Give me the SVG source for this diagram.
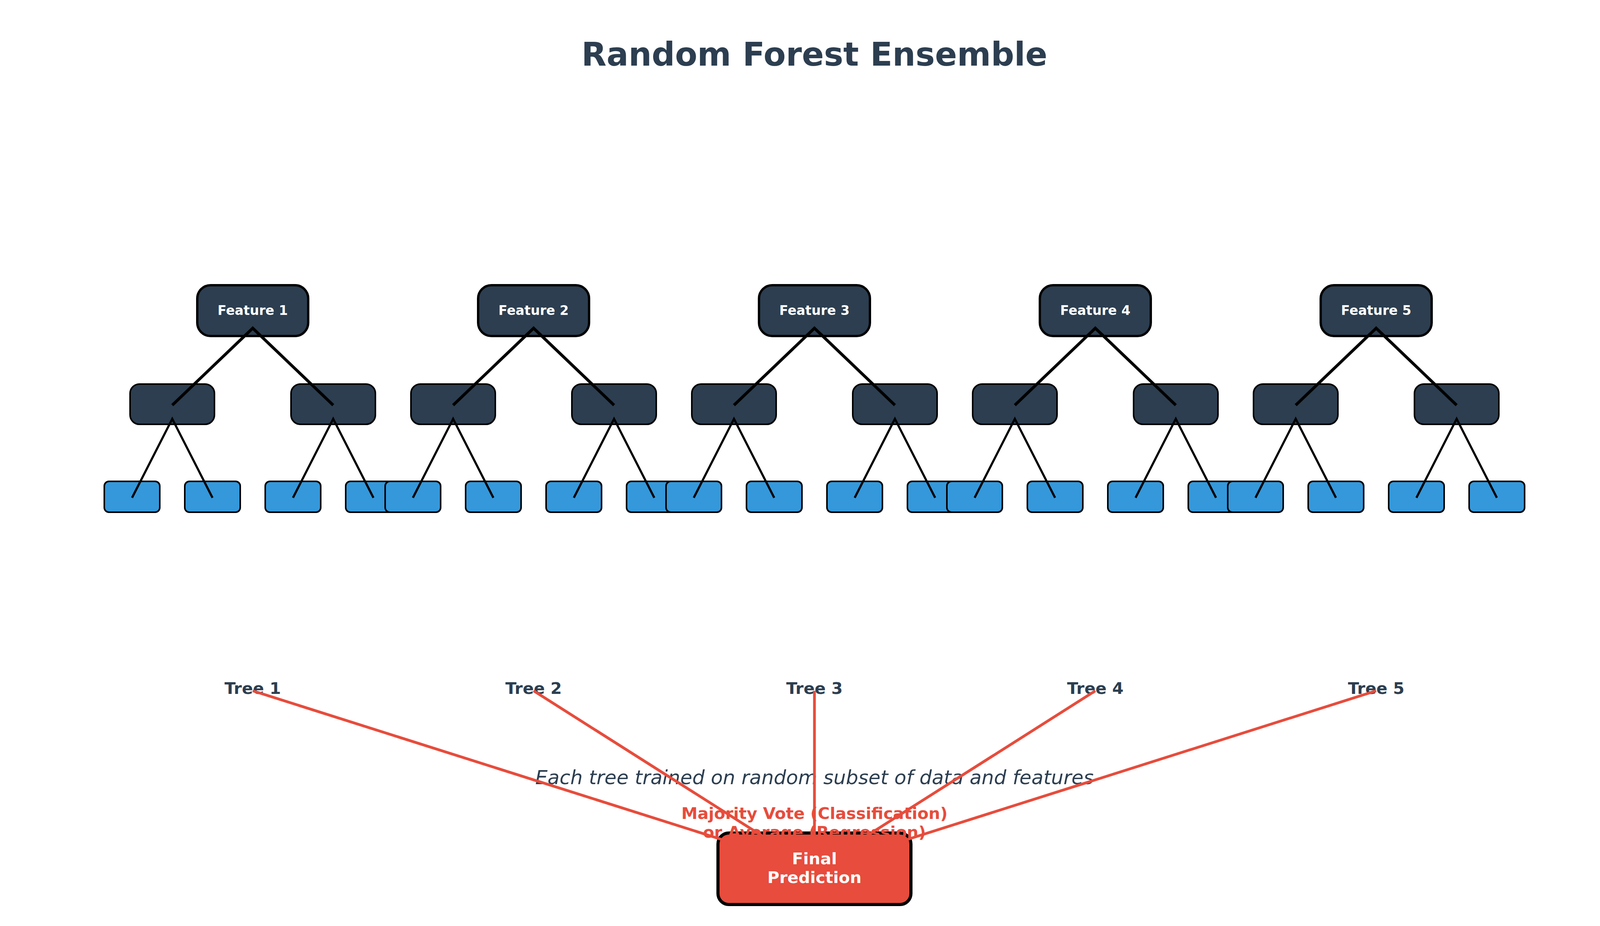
<svg xmlns="http://www.w3.org/2000/svg" width="4170" height="2370" viewBox="0 0 4170 2370">
<style>
text{font-family:"DejaVu Sans","Liberation Sans",sans-serif;text-anchor:middle}
.title{font-size:83.3px;font-weight:bold;fill:#2c3e50}
.feat{font-size:33.3px;font-weight:bold;fill:#ffffff}
.tlabel{font-size:41.7px;font-weight:bold;fill:#2c3e50}
.caption{font-size:50px;font-style:italic;fill:#2c3e50}
.vote{font-size:41.7px;font-weight:bold;fill:#e74c3c}
.final{font-size:41.7px;font-weight:bold;fill:#ffffff}
.root{fill:#2c3e50;stroke:#000;stroke-width:6}
.mid{fill:#2c3e50;stroke:#000;stroke-width:4}
.leaf{fill:#3498db;stroke:#000;stroke-width:4}
.fbox{fill:#e74c3c;stroke:#000;stroke-width:8}
.e1{fill:none;stroke:#000;stroke-width:7.5;stroke-linejoin:miter;stroke-linecap:butt}
.e2{fill:none;stroke:#000;stroke-width:5.5;stroke-linejoin:miter;stroke-linecap:butt}
.agg{fill:none;stroke:#e74c3c;stroke-width:7;stroke-linecap:butt}
</style>
<rect width="4170" height="2370" fill="#ffffff"/>
<text class="title" x="2085" y="168">Random Forest Ensemble</text>

<g id="tree1">
<g id="t1-root"><rect class="root" x="505" y="730" width="284" height="130" rx="34"/><text class="feat" x="647" y="806">Feature 1</text></g>
<g id="t1-m1"><rect class="mid" x="333" y="983" width="216" height="103" rx="24"/></g>
<g id="t1-m2"><rect class="mid" x="745" y="983" width="216" height="103" rx="24"/></g>
<g id="t1-l1"><rect class="leaf" x="267" y="1232" width="142" height="79" rx="12"/></g>
<g id="t1-l2"><rect class="leaf" x="473" y="1232" width="142" height="79" rx="12"/></g>
<g id="t1-l3"><rect class="leaf" x="679" y="1232" width="142" height="79" rx="12"/></g>
<g id="t1-l4"><rect class="leaf" x="885" y="1232" width="142" height="79" rx="12"/></g>
</g>
<g id="tree2">
<g id="t2-root"><rect class="root" x="1224" y="730" width="284" height="130" rx="34"/><text class="feat" x="1366" y="806">Feature 2</text></g>
<g id="t2-m1"><rect class="mid" x="1052" y="983" width="216" height="103" rx="24"/></g>
<g id="t2-m2"><rect class="mid" x="1464" y="983" width="216" height="103" rx="24"/></g>
<g id="t2-l1"><rect class="leaf" x="986" y="1232" width="142" height="79" rx="12"/></g>
<g id="t2-l2"><rect class="leaf" x="1192" y="1232" width="142" height="79" rx="12"/></g>
<g id="t2-l3"><rect class="leaf" x="1398" y="1232" width="142" height="79" rx="12"/></g>
<g id="t2-l4"><rect class="leaf" x="1604" y="1232" width="142" height="79" rx="12"/></g>
</g>
<g id="tree3">
<g id="t3-root"><rect class="root" x="1943" y="730" width="284" height="130" rx="34"/><text class="feat" x="2085" y="806">Feature 3</text></g>
<g id="t3-m1"><rect class="mid" x="1771" y="983" width="216" height="103" rx="24"/></g>
<g id="t3-m2"><rect class="mid" x="2183" y="983" width="216" height="103" rx="24"/></g>
<g id="t3-l1"><rect class="leaf" x="1705" y="1232" width="142" height="79" rx="12"/></g>
<g id="t3-l2"><rect class="leaf" x="1911" y="1232" width="142" height="79" rx="12"/></g>
<g id="t3-l3"><rect class="leaf" x="2117" y="1232" width="142" height="79" rx="12"/></g>
<g id="t3-l4"><rect class="leaf" x="2323" y="1232" width="142" height="79" rx="12"/></g>
</g>
<g id="tree4">
<g id="t4-root"><rect class="root" x="2662" y="730" width="284" height="130" rx="34"/><text class="feat" x="2804" y="806">Feature 4</text></g>
<g id="t4-m1"><rect class="mid" x="2490" y="983" width="216" height="103" rx="24"/></g>
<g id="t4-m2"><rect class="mid" x="2902" y="983" width="216" height="103" rx="24"/></g>
<g id="t4-l1"><rect class="leaf" x="2424" y="1232" width="142" height="79" rx="12"/></g>
<g id="t4-l2"><rect class="leaf" x="2630" y="1232" width="142" height="79" rx="12"/></g>
<g id="t4-l3"><rect class="leaf" x="2836" y="1232" width="142" height="79" rx="12"/></g>
<g id="t4-l4"><rect class="leaf" x="3042" y="1232" width="142" height="79" rx="12"/></g>
</g>
<g id="tree5">
<g id="t5-root"><rect class="root" x="3381" y="730" width="284" height="130" rx="34"/><text class="feat" x="3523" y="806">Feature 5</text></g>
<g id="t5-m1"><rect class="mid" x="3209" y="983" width="216" height="103" rx="24"/></g>
<g id="t5-m2"><rect class="mid" x="3621" y="983" width="216" height="103" rx="24"/></g>
<g id="t5-l1"><rect class="leaf" x="3143" y="1232" width="142" height="79" rx="12"/></g>
<g id="t5-l2"><rect class="leaf" x="3349" y="1232" width="142" height="79" rx="12"/></g>
<g id="t5-l3"><rect class="leaf" x="3555" y="1232" width="142" height="79" rx="12"/></g>
<g id="t5-l4"><rect class="leaf" x="3761" y="1232" width="142" height="79" rx="12"/></g>
</g>

<g id="tree-connectors">
<polyline class="e1" points="441,1037 647,840 853,1037"/>
<polyline class="e2" points="338,1274 441,1072 544,1274"/>
<polyline class="e2" points="750,1274 853,1072 956,1274"/>
<polyline class="e1" points="1160,1037 1366,840 1572,1037"/>
<polyline class="e2" points="1057,1274 1160,1072 1263,1274"/>
<polyline class="e2" points="1469,1274 1572,1072 1675,1274"/>
<polyline class="e1" points="1879,1037 2085,840 2291,1037"/>
<polyline class="e2" points="1776,1274 1879,1072 1982,1274"/>
<polyline class="e2" points="2188,1274 2291,1072 2394,1274"/>
<polyline class="e1" points="2598,1037 2804,840 3010,1037"/>
<polyline class="e2" points="2495,1274 2598,1072 2701,1274"/>
<polyline class="e2" points="2907,1274 3010,1072 3113,1274"/>
<polyline class="e1" points="3317,1037 3523,840 3729,1037"/>
<polyline class="e2" points="3214,1274 3317,1072 3420,1274"/>
<polyline class="e2" points="3626,1274 3729,1072 3832,1274"/>
</g>

<g id="tree-labels">
<text class="tlabel" x="647" y="1776">Tree 1</text>
<text class="tlabel" x="1366" y="1776">Tree 2</text>
<text class="tlabel" x="2085" y="1776">Tree 3</text>
<text class="tlabel" x="2804" y="1776">Tree 4</text>
<text class="tlabel" x="3523" y="1776">Tree 5</text>
</g>

<text class="caption" x="2085" y="2007">Each tree trained on random subset of data and features</text>

<g id="final">
<rect class="fbox" x="1838" y="2132" width="494" height="183" rx="28"/>
<text class="final" x="2085" y="2212">Final</text>
<text class="final" x="2085" y="2260">Prediction</text>
</g>

<g id="vote-label">
<text class="vote" x="2085" y="2096">Majority Vote (Classification)</text>
<text class="vote" x="2085" y="2144">or Average (Regression)</text>
</g>

<g id="aggregation-connectors">
<line class="agg" x1="647" y1="1768" x2="1852" y2="2150"/>
<line class="agg" x1="1366" y1="1768" x2="1968" y2="2150"/>
<line class="agg" x1="2085" y1="1768" x2="2085" y2="2150"/>
<line class="agg" x1="2804" y1="1768" x2="2202" y2="2150"/>
<line class="agg" x1="3523" y1="1768" x2="2318" y2="2150"/>
</g>
</svg>
